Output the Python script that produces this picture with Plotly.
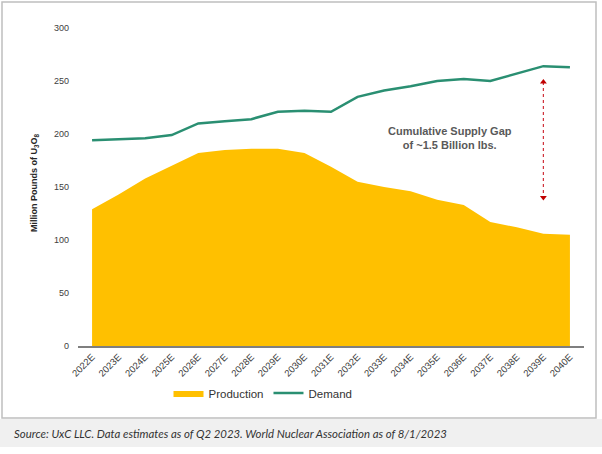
import plotly.graph_objects as go

years = ["2022E","2023E","2024E","2025E","2026E","2027E","2028E","2029E","2030E","2031E",
         "2032E","2033E","2034E","2035E","2036E","2037E","2038E","2039E","2040E"]
production = [129, 143, 158, 170, 182, 185, 186, 186, 182, 169,
              155, 150, 146, 138, 133, 117, 112, 106, 105]
demand = [194, 195, 196, 199, 210, 212, 214, 221, 222, 221,
          235, 241, 245, 250, 252, 250, 257, 264, 263]
gap_year = "2039E"
gap_top = 249
gap_bottom = 140
y_ticks = [0, 50, 100, 150, 200, 250, 300]

W, H = 602, 454
ML, MR, MT, MB = 78, 18, 28, 108
PW, PH = W - ML - MR, H - MT - MB

def px(x):
    return (x - ML) / PW

def py(y):
    return (H - MB - y) / PH

FONT = "Liberation Sans, Arial, sans-serif"

fig = go.Figure()
fig.add_trace(go.Scatter(
    x=years, y=production, name="Production", mode="lines",
    fill="tozeroy", fillcolor="#FFC000", line=dict(width=0, color="#FFC000"),
))
fig.add_trace(go.Scatter(
    x=years, y=demand, name="Demand", mode="lines",
    line=dict(width=2.5, color="#2A8F72"),
))
fig.add_trace(go.Scatter(
    x=[gap_year, gap_year], y=[gap_top, gap_bottom], mode="lines+markers",
    line=dict(color="#D0303A", width=1.2, dash="dot"),
    marker=dict(symbol=["triangle-up", "triangle-down"], size=6, color="#C00000"),
    showlegend=False, hoverinfo="skip",
))

fig.update_layout(
    width=W, height=H,
    margin=dict(l=ML, r=MR, t=MT, b=MB),
    paper_bgcolor="white", plot_bgcolor="white",
    font=dict(family=FONT, color="#404040"),
    showlegend=True,
    legend=dict(orientation="h", x=px(263), xanchor="center", y=py(393), yanchor="middle",
                font=dict(size=11.5, color="#333"), itemwidth=30, bgcolor="rgba(0,0,0,0)"),
    xaxis=dict(type="category", range=[-0.53, 18.53], showgrid=False, showline=True,
               linecolor="#7f7f7f", linewidth=1.5, ticks="", tickangle=-45,
               tickfont=dict(size=9.5, color="#404040"), zeroline=False),
    yaxis=dict(range=[0, 300], tickvals=y_ticks, showgrid=False, showline=False,
               zeroline=False, ticks="", tickfont=dict(size=9, color="#404040"),
               ticklabelstandoff=8),
    shapes=[
        dict(type="rect", xref="paper", yref="paper", x0=px(2), x1=px(596),
             y0=py(418), y1=py(2), line=dict(color="#bfbfbf", width=1.5),
             fillcolor="rgba(0,0,0,0)", layer="below"),
        dict(type="rect", xref="paper", yref="paper", x0=px(0), x1=px(602),
             y0=py(447), y1=py(419), line=dict(width=0),
             fillcolor="#f0f0f0", layer="below"),
    ],
    annotations=[
        dict(xref="paper", yref="paper", x=px(34), y=py(183), textangle=-90,
             xanchor="center", yanchor="middle",
             text="<b>Million Pounds of U<sub>3</sub>O<sub>8</sub></b>", showarrow=False,
             font=dict(size=9, color="#262626")),
        dict(xref="paper", yref="paper", x=px(450), y=py(138),
             xanchor="center", yanchor="middle",
             text="<b>Cumulative Supply Gap<br>of ~1.5 Billion lbs.</b>", showarrow=False,
             font=dict(size=11, color="#595959"), align="center"),
        dict(xref="paper", yref="paper", x=px(12), y=py(433), xanchor="left", yanchor="middle",
             text="<i>Source: UxC LLC. Data estimates as of Q2 2023. World Nuclear Association as of 8/1/2023</i>",
             showarrow=False, font=dict(size=11.4, color="#333", family="Lato, sans-serif")),
    ],
)

fig.write_html("out.html", config={"displayModeBar": False},
               post_script="document.body.style.margin='0';document.body.style.overflow='hidden';")
